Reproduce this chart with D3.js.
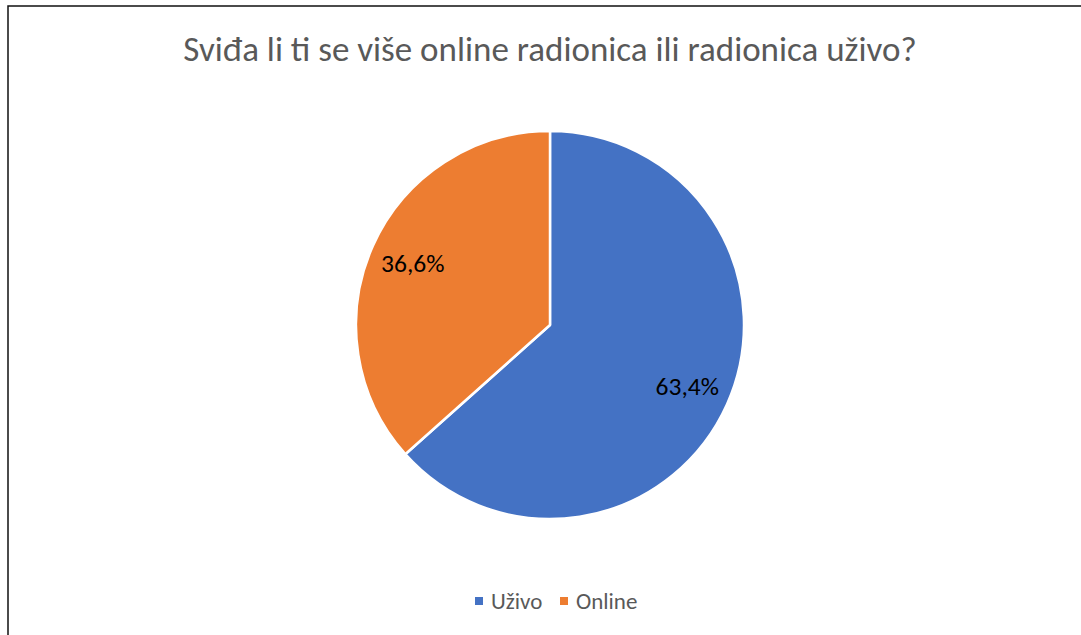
<!DOCTYPE html>
<html>
<head>
<meta charset="utf-8">
<script src="https://cdn.jsdelivr.net/npm/d3@7"></script>
<style>
  body { margin: 0; background: #fff; }
  svg { display: block; }
</style>
</head>
<body>
<div id="container"></div>
<script>
/* CONSTANTS AND GLOBALS */
const width = 1081,
  height = 635,
  cx = 550,
  cy = 325,
  radius = 194;

const title = "Sviđa li ti se više online radionica ili radionica uživo?";
const categories = ["Uživo", "Online"];
const values = [63.4, 36.6];
const colors = ["#4472C4", "#ED7D31"];
const labels = ["63,4%", "36,6%"];

const font = "Calibri, Carlito, 'Open Sans', sans-serif";

const svg = d3.select("#container")
  .append("svg")
  .attr("width", width)
  .attr("height", height)

// chart border (runs off the right and bottom edges)
svg.append("rect")
  .attr("x", 8)
  .attr("y", 6)
  .attr("width", width + 20)
  .attr("height", height + 20)
  .attr("fill", "none")
  .attr("stroke", "#111")
  .attr("stroke-width", 1.5)

// title
svg.append("text")
  .attr("x", cx)
  .attr("y", 61)
  .attr("text-anchor", "middle")
  .attr("font-family", font)
  .attr("font-size", 35)
  .attr("fill", "#595959")
  .text(title)

/* PIE */
const colorScale = d3.scaleOrdinal()
  .domain(categories)
  .range(colors)

const data = categories.map((c, i) => ({ name: c, value: values[i], label: labels[i] }))

const pie = d3.pie()
  .value(d => d.value)
  .sort(null)

const arc = d3.arc()
  .innerRadius(0)
  .outerRadius(radius)

const labelArc = d3.arc()
  .innerRadius(radius * 0.775)
  .outerRadius(radius * 0.775)

const g = svg.append("g")
  .attr("transform", `translate(${cx},${cy})`)

const slices = pie(data)

g.selectAll("path")
  .data(slices)
  .join("path")
  .attr("d", arc)
  .attr("fill", d => colorScale(d.data.name))
  .attr("stroke", "#fff")
  .attr("stroke-width", 2.5)
  .attr("stroke-linejoin", "round")

g.selectAll(".lbl")
  .data(slices)
  .join("text")
  .attr("class", "lbl")
  .attr("transform", d => `translate(${labelArc.centroid(d)})`)
  .attr("text-anchor", "middle")
  .attr("dy", "0.35em")
  .attr("font-family", font)
  .attr("font-size", 25.5)
  .attr("fill", "#000")
  .text(d => d.data.label)

/* LEGEND */
const legend = svg.append("g")
  .attr("transform", "translate(475, 601)")

const item = legend.selectAll("g")
  .data(categories)
  .join("g")
  .attr("transform", (d, i) => `translate(${i * 85}, 0)`)

item.append("rect")
  .attr("x", 0)
  .attr("y", -4)
  .attr("width", 8)
  .attr("height", 8)
  .attr("fill", d => colorScale(d))

item.append("text")
  .attr("x", 16)
  .attr("dy", "0.35em")
  .attr("font-family", font)
  .attr("font-size", 23)
  .attr("fill", "#595959")
  .text(d => d)
</script>
</body>
</html>
